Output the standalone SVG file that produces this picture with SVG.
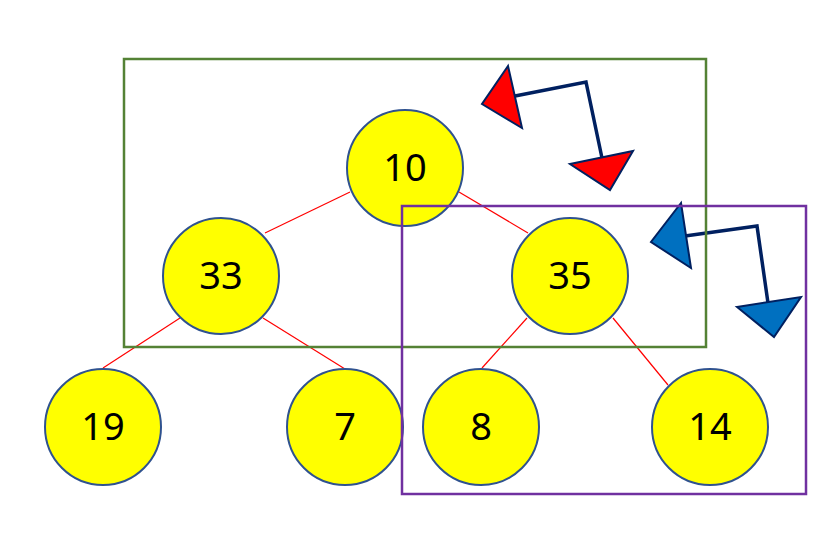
<svg xmlns="http://www.w3.org/2000/svg" width="835" height="538" viewBox="0 0 835 538">
<style>
.edge{stroke:#FF0000;stroke-width:1.2;fill:none}
.node circle{fill:#FFFF00;stroke:#2F528F;stroke-width:2}
.node text{font-family:"Noto Sans","Open Sans","DejaVu Sans",sans-serif;font-size:38px;fill:#000;text-anchor:middle}
.conn{stroke:#002060;stroke-width:3.5;fill:none;stroke-linejoin:miter}
.tri{stroke:#002060;stroke-width:2;stroke-linejoin:miter}
</style>
<rect width="835" height="538" fill="#FFFFFF"/>
<g id="edges">
<line class="edge" x1="350" y1="192" x2="265" y2="233"/>
<line class="edge" x1="459" y1="192" x2="528" y2="233"/>
<line class="edge" x1="180" y1="318" x2="103" y2="368"/>
<line class="edge" x1="263" y1="318" x2="345" y2="369"/>
<line class="edge" x1="527" y1="318" x2="482" y2="368"/>
<line class="edge" x1="613" y1="318" x2="668" y2="385"/>
</g>
<g id="n10" class="node"><circle cx="405" cy="168" r="58"/><text x="405" y="181">10</text></g>
<g id="n33" class="node"><circle cx="221" cy="276" r="58"/><text x="221" y="289">33</text></g>
<g id="n35" class="node"><circle cx="570" cy="276" r="58"/><text x="570" y="289">35</text></g>
<g id="n19" class="node"><circle cx="103" cy="427" r="58"/><text x="103" y="440">19</text></g>
<g id="n7" class="node"><circle cx="345" cy="427" r="58"/><text x="345" y="440">7</text></g>
<g id="n8" class="node"><circle cx="481" cy="427" r="58"/><text x="481" y="440">8</text></g>
<g id="n14" class="node"><circle cx="710" cy="427" r="58"/><text x="710" y="440">14</text></g>
<g id="rotation-red">
<polyline class="conn" points="515,96 586,82 602,158"/>
<polygon class="tri" fill="#FF0000" points="508,66 482,104 522,128"/>
<polygon class="tri" fill="#FF0000" points="570,164 633,151 610,190"/>
</g>
<g id="rotation-blue">
<polyline class="conn" points="685,236 757,226 768,303"/>
<polygon class="tri" fill="#0070C0" points="681,203 651,242 691,268"/>
<polygon class="tri" fill="#0070C0" points="737,307 801,297 774,337"/>
</g>
<g id="box-green"><rect x="124" y="59" width="582" height="288" fill="none" stroke="#548235" stroke-width="2.5"/></g>
<g id="box-purple"><rect x="402" y="206" width="404" height="288" fill="none" stroke="#7030A0" stroke-width="2.5"/></g>
</svg>
